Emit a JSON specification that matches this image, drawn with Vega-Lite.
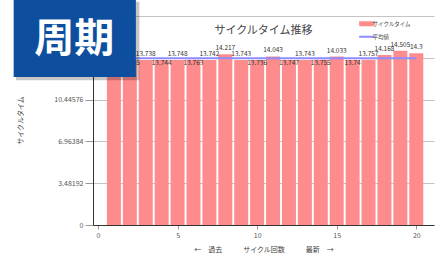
{
  "$schema": "https://vega.github.io/schema/vega-lite/v6.json",
  "width": 341,
  "height": 209,
  "autosize": {"type": "none"},
  "padding": {"left": 93, "top": 16, "right": 1, "bottom": 29},
  "background": "white",
  "title": {"text": "サイクルタイム推移", "fontSize": 11, "fontWeight": "normal", "color": "#444", "anchor": "middle", "baseline": "middle", "offset": -42, "font": "Noto Sans CJK JP"},
  "config": {
    "font": "Noto Sans CJK JP",
    "view": {"stroke": null},
    "axis": {"gridColor": "#c4c4c4", "gridWidth": 1, "domainColor": "#333", "tickColor": "#999", "labelColor": "#555", "labelFontSize": 7, "titleFontSize": 7, "titleFontWeight": "normal", "titleColor": "#444"}
  },
  "data": {"values": [
    {"cycle": 1, "time": 13.75},
    {"cycle": 2, "time": 13.735},
    {"cycle": 3, "time": 13.738},
    {"cycle": 4, "time": 13.744},
    {"cycle": 5, "time": 13.748},
    {"cycle": 6, "time": 13.763},
    {"cycle": 7, "time": 13.742},
    {"cycle": 8, "time": 14.217},
    {"cycle": 9, "time": 13.743},
    {"cycle": 10, "time": 13.736},
    {"cycle": 11, "time": 14.043},
    {"cycle": 12, "time": 13.747},
    {"cycle": 13, "time": 13.743},
    {"cycle": 14, "time": 13.755},
    {"cycle": 15, "time": 14.033},
    {"cycle": 16, "time": 13.74},
    {"cycle": 17, "time": 13.757},
    {"cycle": 18, "time": 14.168},
    {"cycle": 19, "time": 14.505},
    {"cycle": 20, "time": 14.3}
  ]},
  "layer": [
    {
      "mark": {"type": "bar", "size": 14},
      "encoding": {
        "x": {"field": "cycle", "type": "quantitative", "scale": {"domain": [0, 20.8], "nice": false, "zero": false},
          "axis": {"values": [0, 5, 10, 15, 20], "grid": false, "tickSize": 4, "labelPadding": 2, "title": "←　過去　　　サイクル回数　　　最新　→", "titlePadding": 7}},
        "y": {"field": "time", "type": "quantitative", "scale": {"domain": [0, 17.4096], "nice": false},
          "axis": {"values": [0, 3.48192, 6.96384, 10.44576, 13.92768, 17.4096], "labelExpr": "'' + datum.value", "tickSize": 8, "labelPadding": 2, "title": "サイクルタイム", "titleX": -73, "titleY": 104, "titleAlign": "center", "titleBaseline": "middle"}},
        "color": {"datum": "サイクルタイム", "type": "nominal",
          "scale": {"domain": ["サイクルタイム", "平均値"], "range": ["#ff8c8c", "#8c8cff"]},
          "legend": {"title": null, "orient": "none", "legendX": 271, "legendY": 5, "symbolType": "stroke", "symbolSize": 230, "symbolStrokeWidth": 5, "labelFontSize": 5.5, "labelColor": "#444", "rowPadding": -2, "symbolOffset": 0, "labelOffset": 3,
            "encode": {"symbols": {"update": {"strokeWidth": {"signal": "datum.value == '平均値' ? 2 : 5"}}}}}}
      }
    },
    {
      "mark": {"type": "rule", "strokeWidth": 2},
      "encoding": {
        "x": {"aggregate": "min", "field": "cycle", "type": "quantitative"},
        "x2": {"aggregate": "max", "field": "cycle"},
        "y": {"aggregate": "mean", "field": "time", "type": "quantitative"},
        "color": {"datum": "平均値", "type": "nominal"}
      }
    },
    {
      "transform": [{"filter": "!(datum.cycle % 2 == 0 && datum.time < 14)"}],
      "mark": {"type": "text", "fontSize": 6.5, "color": "#333", "baseline": "middle", "dy": -6},
      "encoding": {
        "x": {"field": "cycle", "type": "quantitative"},
        "y": {"field": "time", "type": "quantitative"},
        "text": {"field": "time", "type": "nominal"}
      }
    },
    {
      "transform": [{"filter": "datum.cycle % 2 == 0 && datum.time < 14"}],
      "mark": {"type": "text", "fontSize": 6.5, "color": "#333", "baseline": "middle", "dy": 3},
      "encoding": {
        "x": {"field": "cycle", "type": "quantitative"},
        "y": {"field": "time", "type": "quantitative"},
        "text": {"field": "time", "type": "nominal"}
      }
    },
    {
      "data": {"values": [{"badge": "周期"}]},
      "mark": {"type": "rect", "color": "#000", "opacity": 0.22},
      "encoding": {
        "x": {"datum": -5.15, "type": "quantitative"},
        "x2": {"datum": 2.6},
        "y": {"datum": 18.6, "type": "quantitative"},
        "y2": {"datum": 12.05}
      }
    },
    {
      "data": {"values": [{"badge": "周期"}]},
      "mark": {"type": "rect", "color": "#0d4f9e"},
      "encoding": {
        "x": {"datum": -5.3, "type": "quantitative"},
        "x2": {"datum": 2.38},
        "y": {"datum": 18.75, "type": "quantitative"},
        "y2": {"datum": 12.33}
      }
    },
    {
      "data": {"values": [{"badge": "周期"}]},
      "mark": {"type": "text", "color": "white", "fontSize": 40, "fontWeight": "bold", "align": "center", "baseline": "middle", "font": "Noto Sans CJK JP"},
      "encoding": {
        "x": {"datum": -1.5, "type": "quantitative"},
        "y": {"datum": 15.4, "type": "quantitative"},
        "text": {"field": "badge", "type": "nominal"}
      }
    }
  ]
}
